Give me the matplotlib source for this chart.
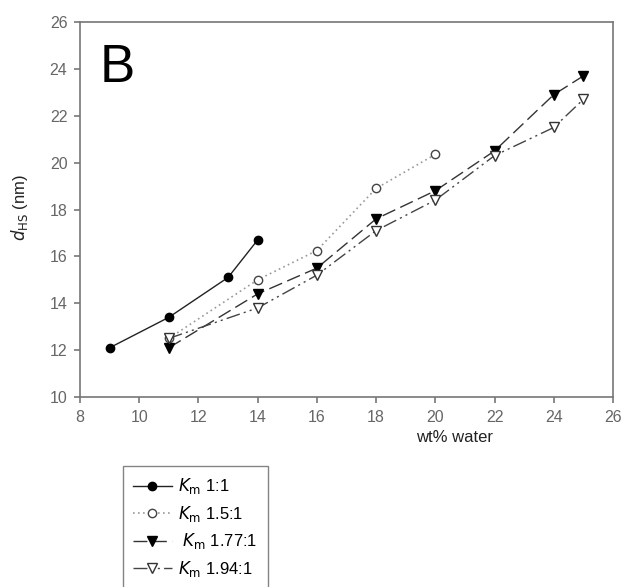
import matplotlib
matplotlib.use('Agg')
import matplotlib.pyplot as plt

plt.rcParams['font.family'] = ['Liberation Sans', 'DejaVu Sans']

# data
x_11 = [9, 11, 13, 14]
y_11 = [12.1, 13.4, 15.1, 16.7]
x_15 = [11, 14, 16, 18, 20]
y_15 = [12.5, 15.0, 16.25, 18.9, 20.35]
x_177 = [11, 14, 16, 18, 20, 22, 24, 25]
y_177 = [12.1, 14.4, 15.5, 17.6, 18.8, 20.5, 22.9, 23.7]
x_194 = [11, 14, 16, 18, 20, 22, 24, 25]
y_194 = [12.5, 13.8, 15.2, 17.1, 18.4, 20.3, 21.5, 22.7]

labels = [r'$K_{\rm m}$ 1:1', r'$K_{\rm m}$ 1.5:1', r' $K_{\rm m}$ 1.77:1', r'$K_{\rm m}$ 1.94:1']

W, H = 624, 587
fig = plt.figure(figsize=(W / 100, H / 100), dpi=100)
ax = fig.add_axes([80 / W, 1 - 397 / H, (613 - 80) / W, (397 - 22) / H])

ax.plot(x_11, y_11, color='#222222', lw=1, ls='-', marker='o', ms=6,
        mfc='black', mec='black', label=labels[0])
ax.plot(x_15, y_15, color='#999999', lw=1.2, ls=(0, (1, 2)), marker='o', ms=6,
        mfc='white', mec='#444444', label=labels[1])
ax.plot(x_177, y_177, color='#333333', lw=1, ls=(0, (10, 4)), marker='v', ms=6.5,
        mfc='black', mec='black', label=labels[2])
ax.plot(x_194, y_194, color='#444444', lw=1, ls=(0, (10, 3, 1.5, 3, 1.5, 3)),
        marker='v', ms=6.5, mfc='white', mec='#333333', label=labels[3])

ax.set_xlim(8, 26)
ax.set_ylim(10, 26)
ax.set_xticks(range(8, 27, 2))
ax.set_yticks(range(10, 27, 2))
for s in ax.spines.values():
    s.set_color('#777777')
    s.set_linewidth(1.2)
ax.tick_params(direction='out', length=4, width=1.2, color='#777777',
               labelcolor='#666666', labelsize=11.5, pad=5)

ax.text(0.036, 0.945, 'B', transform=ax.transAxes, fontsize=38,
        va='top', ha='left', color='black')

fig.text(20 / W, 1 - 208 / H, r'$d_{\rm HS}$ (nm)', rotation=90,
         fontsize=12, va='center', ha='center', color='#222222')
fig.text(455 / W, 1 - 437 / H, 'wt% water', fontsize=12,
         va='center', ha='center', color='#222222')

leg = fig.legend(loc='upper left', bbox_to_anchor=(115 / W, 1 - 458 / H),
                 frameon=True, fancybox=False, fontsize=12,
                 handlelength=2.3, labelspacing=0.45, borderpad=0.6,
                 handletextpad=0.4)
leg.get_frame().set_edgecolor('#666666')
leg.get_frame().set_linewidth(1.0)

fig.savefig('out.png', dpi=100)
